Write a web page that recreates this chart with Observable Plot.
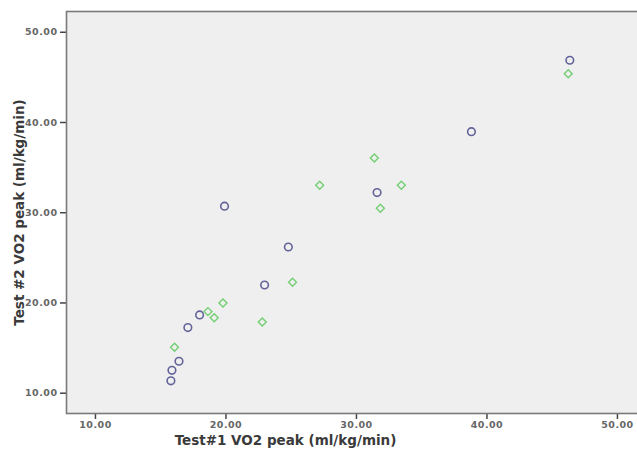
<!DOCTYPE html>
<html>
<head>
<meta charset="utf-8">
<script src="https://cdn.jsdelivr.net/npm/d3@7"></script>
<script src="https://cdn.jsdelivr.net/npm/@observablehq/plot@0.6"></script>
<style>
  html, body { margin: 0; padding: 0; background: #ffffff; overflow: hidden; }
  #chart { width: 637px; height: 451px; overflow: hidden; }
  #chart svg { display: block; max-width: none !important; width: 642px !important; height: 451px !important; }
  #chart g[aria-label="x-axis tick label"] text,
  #chart g[aria-label="y-axis tick label"] text { fill: #666; letter-spacing: 0.5px; }
</style>
</head>
<body>
<div id="chart"></div>
<script>
// Series 1 (blue circles)
const series1X = [15.78, 15.86, 16.40, 17.08, 17.98, 19.89, 22.96, 24.78, 31.58, 38.81, 46.35];
const series1Y = [11.37, 12.54, 13.54, 17.27, 18.67, 30.73, 21.99, 26.20, 32.23, 38.98, 46.90];
// Series 2 (green diamonds)
const series2X = [16.06, 18.62, 19.10, 19.77, 22.78, 25.10, 27.18, 31.37, 31.83, 33.44, 46.23];
const series2Y = [15.09, 19.04, 18.37, 20.00, 17.90, 22.30, 33.05, 36.07, 30.50, 33.05, 45.40];

const xTicks = [10, 20, 30, 40, 50];
const yTicks = [10, 20, 30, 40, 50];
const xTitle = "Test#1 VO2 peak (ml/kg/min)";
const yTitle = "Test #2 VO2 peak (ml/kg/min)";

const s1 = series1X.map((x, i) => ({x, y: series1Y[i]}));
const s2 = series2X.map((x, i) => ({x, y: series2Y[i]}));
const fmt = d3.format(".2f");

const chart = Plot.plot({
  width: 642,
  height: 451,
  marginLeft: 66,
  marginRight: 0,
  marginTop: 11,
  marginBottom: 38,
  style: {fontFamily: "DejaVu Sans", background: "#ffffff"},
  x: {domain: [7.78, 51.92]},
  y: {domain: [7.75, 52.3]},
  marks: [
    Plot.frame({fill: "#efefef", stroke: null}),
    Plot.axisX({ticks: xTicks, tickFormat: fmt, tickSize: 6, tickPadding: 2, label: null,
      stroke: "#444", strokeWidth: 1.5, fontSize: 9.5, fontWeight: "bold", fill: "#666"}),
    Plot.axisY({ticks: yTicks, tickFormat: fmt, tickSize: 6, tickPadding: 3, label: null,
      stroke: "#444", strokeWidth: 1.5, fontSize: 9.5, fontWeight: "bold", fill: "#666"}),
    Plot.frame({stroke: "#7a7a7a", strokeWidth: 1.6}),
    Plot.dot(s1, {x: "x", y: "y", r: 3.8, symbol: "circle", stroke: "#63639a", strokeWidth: 1.6, fill: "none"}),
    Plot.dot(s2, {x: "x", y: "y", r: 3.6, symbol: "diamond2", stroke: "#73cf73", strokeWidth: 1.4, fill: "none"}),
    Plot.text([xTitle], {text: d => d, frameAnchor: "bottom-left", dx: 219, dy: 31,
      fontSize: 13.5, fontWeight: "bold", fontFamily: "DejaVu Sans", fill: "#3a3a3a", textAnchor: "middle"}),
    Plot.text([yTitle], {text: d => d, frameAnchor: "left", dx: -47, rotate: -90,
      fontSize: 13.5, fontWeight: "bold", fontFamily: "DejaVu Sans", fill: "#3a3a3a", textAnchor: "middle"})
  ]
});
document.getElementById("chart").appendChild(chart);
</script>
</body>
</html>
